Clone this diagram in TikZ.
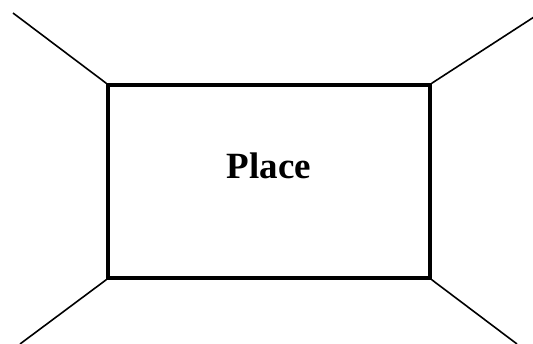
\documentclass[tikz,border=0pt]{standalone}
\usepackage{fontspec}
\setmainfont{Liberation Serif}

\begin{document}
\begin{tikzpicture}[x=1pt, y=-1pt, every node/.style={font=\bfseries\fontsize{37}{40}\selectfont}]
  \useasboundingbox (0,0) rectangle (533,343);
  % the room and its label
  \node[draw, line width=3.4pt, minimum width=322pt, minimum height=193pt, inner sep=0pt] (room) at (269,181.5) {};
  \node (place) at (269,166) {Place};
  % far corners
  \coordinate (tl) at (13,13);
  \coordinate (tr) at (534,17);
  \coordinate (bl) at (20,344);
  \coordinate (br) at (517,344);
  \draw[line width=1.6pt] (room.north west) -- (tl);
  \draw[line width=1.6pt] (room.north east) -- (tr);
  \draw[line width=1.6pt] (room.south west) -- (bl);
  \draw[line width=1.6pt] (room.south east) -- (br);
\end{tikzpicture}
\end{document}
